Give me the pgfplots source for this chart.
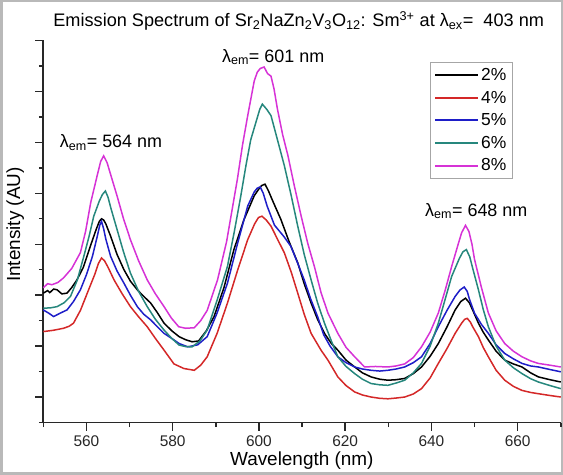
\documentclass[border=0pt]{standalone}
\usepackage{fontspec}
\setmainfont{Liberation Sans}
\usepackage{pgfplots}
\pgfplotsset{compat=1.18}
\definecolor{cred}{RGB}{212,40,40}
\definecolor{cblue}{RGB}{30,30,200}
\definecolor{cteal}{RGB}{38,135,125}
\definecolor{cmag}{RGB}{214,50,214}
\definecolor{axgray}{RGB}{40,40,40}
\begin{document}
\begin{tikzpicture}
\useasboundingbox (0,0) rectangle (563bp,475bp);
\draw[gray!55, line width=2bp] (1.5bp,1.5bp) rectangle (561.5bp,473.5bp);
\begin{axis}[
  at={(43.3bp,52.5bp)}, anchor=south west,
  scale only axis, width=517.5bp, height=382bp,
  xmin=550, xmax=670, ymin=0, ymax=15,
  axis x line=bottom, axis y line=left,
  axis line style={-, axgray, line width=1.6bp},
  xtick={560,580,...,660},
  minor xtick={550,570,...,670},
  ytick={1,3,...,15}, yticklabels={},
  minor ytick={0,2,...,14},
  tick align=outside,
  major tick length=8bp, minor tick length=4.5bp,
  every tick/.style={axgray, line width=1.4bp},
  /pgf/number format/assume math mode=true,
  /pgf/number format/set thousands separator={},
  xticklabel style={font=\fontsize{15.5}{15.5}\selectfont, text=black!85, yshift=-2bp},
  xlabel={Wavelength (nm)},
  ylabel={Intensity (AU)},
  xlabel style={font=\fontsize{19}{19}\selectfont, at={(axis description cs:0.4995,-0.1115)}, anchor=base},
  ylabel style={font=\fontsize{19}{19}\selectfont, at={(axis description cs:-0.054,0.518)}, anchor=center},
  legend style={at={(axis description cs:0.7473,0.9428)}, anchor=north west,
    draw=gray!70, line width=0.9bp, font=\fontsize{17.5}{17.5}\selectfont,
    inner xsep=4bp, inner ysep=1bp, row sep=0bp,
    nodes={inner ysep=4.5bp}},
  legend cell align=left,
  legend image post style={xscale=2.52, line width=1.9bp},
  clip=false,
  every axis plot/.append style={line width=1.5bp, no markers},
]
\addplot[black] coordinates {
(550,5.08)(551,5.18)(551.5,5.1)(552.4,5.24)(553.2,5.21)(554.3,5.05)(555.5,5.08)(556.6,5.3)(557.8,5.6)(559.3,6.1)(560.9,6.92)(562.3,7.6)(563,7.9)(563.5,8.0)(564,7.95)(564.5,7.8)(565.6,7.32)(567.1,6.6)(568.7,6.0)(570.2,5.55)(571.8,5.21)(573.3,4.95)(574.9,4.69)(576.5,4.3)(578,3.9)(579.8,3.6)(581.5,3.37)(583,3.25)(584.5,3.17)(586,3.2)(587.8,3.6)(589.6,4.16)(591.9,5.3)(594.2,6.79)(596.5,7.95)(598.9,8.9)(599.9,9.15)(600.6,9.3)(601.4,9.36)(602.2,9.1)(603.2,8.7)(605.1,7.97)(607,7.1)(609,6.27)(610.5,5.45)(612.1,4.69)(613.6,4.05)(615.2,3.5)(616.8,3.1)(618.3,2.84)(620.2,2.45)(622.2,2.18)(624,1.95)(626,1.79)(628,1.7)(629.9,1.66)(631.8,1.68)(633.8,1.73)(635.8,1.92)(637.7,2.18)(639.7,2.6)(641.6,3.1)(643.6,3.75)(645.5,4.42)(646.8,4.75)(647.9,4.88)(648.8,4.7)(649.6,4.4)(650.9,3.9)(652,3.55)(653.2,3.24)(655,2.8)(657,2.45)(659,2.3)(661,2.18)(663,1.95)(664.8,1.79)(667.5,1.68)(670,1.59)
};
\addlegendentry{2\%}
\addplot[cred] coordinates {
(550,3.57)(552.3,3.62)(554.7,3.7)(556,3.78)(557,3.9)(558.6,4.4)(560.2,5.08)(561.9,5.8)(562.8,6.25)(563.5,6.46)(564.2,6.35)(565,6.1)(566.4,5.6)(568.3,5.05)(570.2,4.55)(572.1,4.15)(574.1,3.76)(576,3.3)(578,2.84)(580.3,2.3)(582.6,2.12)(585,2.05)(586.5,2.25)(588,2.58)(590.3,3.5)(592.7,4.69)(595,5.95)(597.4,7.18)(599,7.8)(599.9,8.05)(600.7,8.1)(601.7,7.95)(602.8,7.71)(604.3,7.2)(605.9,6.66)(607.5,5.9)(609,5.08)(610.5,4.25)(612.1,3.5)(614.4,2.84)(616,2.45)(618.3,1.79)(620.2,1.45)(622.2,1.2)(624,1.08)(626,1.0)(628,0.95)(629.9,0.93)(631.8,0.96)(633.8,1.0)(635.8,1.12)(637.7,1.33)(639.7,1.75)(641.6,2.32)(643.6,2.9)(645.5,3.5)(647,3.9)(647.7,4.05)(648.3,4.09)(649,3.95)(649.6,3.75)(650.9,3.37)(652,2.95)(653.2,2.58)(655,2.05)(657,1.66)(659,1.42)(661,1.26)(663,1.18)(664.8,1.13)(667.5,1.06)(670,1.0)
};
\addlegendentry{4\%}
\addplot[cblue] coordinates {
(550,4.42)(551.2,4.3)(552.4,4.16)(554,4.3)(555.5,4.42)(557,4.75)(558.6,5.21)(560,5.8)(561.4,6.53)(562.5,7.3)(563.1,7.75)(563.5,7.9)(564,7.6)(564.5,7.2)(565.6,6.53)(567.1,5.95)(568.7,5.47)(570.2,5.0)(571.8,4.55)(573.3,4.25)(574.9,4.03)(576.5,3.75)(578,3.5)(579.8,3.3)(581.5,3.1)(583.5,2.97)(585.8,3.05)(588,3.37)(590.3,4.3)(592.7,5.47)(595,7.0)(597.4,8.5)(598.9,9.05)(599.6,9.2)(600.3,9.25)(601,9.0)(601.9,8.5)(603.6,7.75)(605.8,7.3)(607.4,6.92)(609,6.25)(610.5,5.6)(612,4.85)(613.6,4.16)(615,3.45)(616.5,3.0)(618.3,2.58)(620.2,2.35)(622.2,2.18)(624,2.1)(626,2.05)(628,2.02)(629.9,2.05)(631.8,2.1)(633.8,2.18)(635.8,2.35)(637.7,2.58)(639.7,3.1)(641.6,3.76)(643.6,4.4)(645.5,4.95)(646.6,5.2)(647.6,5.32)(648.3,5.15)(648.8,4.85)(650,4.29)(651.6,3.85)(653.2,3.5)(655,3.05)(657,2.71)(659,2.5)(661,2.32)(663,2.22)(664.8,2.18)(667.5,2.08)(670,1.99)
};
\addlegendentry{5\%}
\addplot[cteal] coordinates {
(550,4.49)(551.6,4.5)(553.2,4.55)(554.8,4.7)(556.3,4.95)(557.9,5.6)(559.4,6.53)(560.6,7.3)(561.7,8.1)(563,8.7)(563.7,8.95)(564.4,9.09)(565,8.85)(565.7,8.4)(567.1,7.58)(568.6,6.7)(570.2,5.87)(572.1,5.15)(574.1,4.55)(576,4.05)(578,3.63)(579.8,3.3)(581.5,3.04)(583,2.98)(584.5,2.97)(586.3,3.2)(588,3.63)(590.3,4.8)(592.7,6.13)(594.3,7.5)(595.8,8.9)(597,10.1)(598.1,11.1)(599.5,11.9)(600.2,12.3)(600.8,12.5)(601.8,12.3)(602.8,12.05)(604.3,11.1)(605.9,10.08)(607.5,8.9)(609,7.71)(610.5,6.6)(612.1,5.6)(613.6,4.7)(615.2,3.9)(616.8,3.2)(618.3,2.58)(620.2,2.2)(622.2,1.92)(624,1.7)(626,1.53)(628,1.48)(629.9,1.46)(631.8,1.55)(633.8,1.66)(635.8,1.95)(637.7,2.32)(639.7,3.0)(641.6,3.9)(643.2,4.85)(644.7,5.74)(646.5,6.45)(647.3,6.7)(648.1,6.79)(648.9,6.5)(649.5,6.1)(650.9,5.21)(652,4.45)(653.2,3.76)(655,3.0)(657,2.45)(659,2.15)(661,1.92)(663,1.72)(664.8,1.59)(667.5,1.45)(670,1.33)
};
\addlegendentry{6\%}
\addplot[cmag] coordinates {
(550,5.29)(551,5.45)(552,5.41)(553.4,5.5)(554.7,5.68)(556.6,6.05)(558.6,6.67)(559.8,7.5)(561,8.64)(562.5,9.7)(563.3,10.25)(564,10.47)(564.8,10.2)(565.5,9.8)(567.1,8.9)(568.6,8.0)(570.2,7.18)(572.1,6.35)(574.1,5.6)(576,5.05)(578,4.55)(579.7,4.1)(581.4,3.76)(583,3.7)(585,3.72)(586.5,4.0)(588,4.4)(590.4,5.6)(592.5,7.1)(595,9.55)(596.2,10.9)(597.4,12.05)(598.9,13.4)(599.6,13.75)(600.3,13.9)(601.2,13.96)(602,13.7)(602.8,13.6)(603.5,13.1)(604.3,12.3)(605.5,11.3)(606.7,10.5)(608.2,9.3)(609.8,8.1)(611.3,7.05)(612.9,6.1)(614.4,5.1)(616,4.3)(618.3,3.5)(620.2,2.95)(622.2,2.58)(624.5,2.18)(627,2.2)(629.9,2.18)(631.8,2.22)(633.8,2.3)(635.8,2.55)(637.7,2.97)(639.7,3.55)(641.6,4.3)(643.2,5.2)(644.7,6.13)(646.2,7.0)(647,7.45)(647.9,7.74)(648.7,7.5)(649.4,7.0)(650,6.4)(651.6,5.3)(653.2,4.3)(655,3.6)(657,3.1)(659,2.8)(661,2.58)(663,2.42)(664.8,2.32)(667.5,2.25)(670,2.18)
};
\addlegendentry{8\%}
\node[anchor=base, font=\fontsize{18.2}{18.2}\selectfont] at (axis description cs:0.4935,1.0354)
  {Emission Spectrum of Sr\textsubscript{2}NaZn\textsubscript{2}V\textsubscript{3}O\textsubscript{12}: Sm\textsuperscript{3+} at λ\textsubscript{ex}=\ \ 403 nm};
\node[anchor=base, font=\fontsize{18}{18}\selectfont] at (axis cs:565.7,10.8) {λ\textsubscript{em}= 564 nm};
\node[anchor=base, font=\fontsize{18}{18}\selectfont] at (axis cs:603.3,14.15) {λ\textsubscript{em}= 601 nm};
\node[anchor=base, font=\fontsize{18}{18}\selectfont] at (axis cs:650.4,8.1) {λ\textsubscript{em}= 648 nm};
\end{axis}
\end{tikzpicture}
\end{document}
